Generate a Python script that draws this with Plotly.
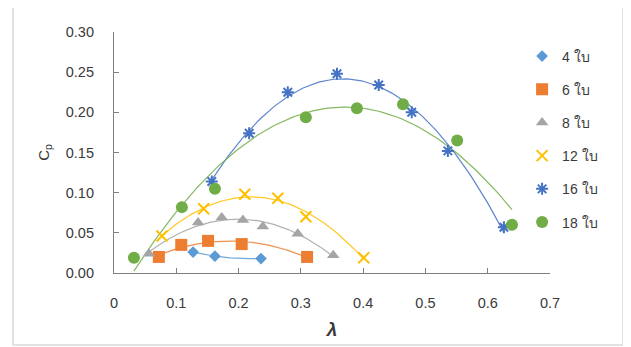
import numpy as np
import plotly.graph_objects as go

# ---- data ----
x4 = [0.127, 0.162, 0.236]
y4 = [0.026, 0.021, 0.018]

x6 = [0.072, 0.108, 0.151, 0.205, 0.310]
y6 = [0.020, 0.035, 0.040, 0.036, 0.020]

x8 = [0.056, 0.135, 0.173, 0.207, 0.239, 0.295, 0.352]
y8 = [0.024, 0.063, 0.069, 0.066, 0.058, 0.049, 0.022]

x12 = [0.077, 0.144, 0.210, 0.263, 0.308, 0.401]
y12 = [0.046, 0.080, 0.098, 0.093, 0.070, 0.019]

x16 = [0.157, 0.217, 0.279, 0.358, 0.425, 0.478, 0.536, 0.626]
y16 = [0.114, 0.174, 0.225, 0.248, 0.234, 0.200, 0.152, 0.057]

x18 = [0.032, 0.109, 0.162, 0.308, 0.390, 0.464, 0.551, 0.639]
y18 = [0.019, 0.082, 0.105, 0.194, 0.205, 0.210, 0.165, 0.060]

names = ["4 ใบ", "6 ใบ", "8 ใบ", "12 ใบ", "16 ใบ", "18 ใบ"]
xtick_vals = [0, 0.1, 0.2, 0.3, 0.4, 0.5, 0.6, 0.7]
xtick_text = ["0", "0.1", "0.2", "0.3", "0.4", "0.5", "0.6", "0.7"]
ytick_vals = [0, 0.05, 0.10, 0.15, 0.20, 0.25, 0.30]
ytick_text = ["0.00", "0.05", "0.10", "0.15", "0.20", "0.25", "0.30"]

series = [(x4, y4), (x6, y6), (x8, y8), (x12, y12), (x16, y16), (x18, y18)]
colors = ["#5B9BD5", "#ED7D31", "#A5A5A5", "#FFC000", "#4472C4", "#70AD47"]
symbols = ["diamond", "square", "triangle-up", "x-thin-open", "asterisk-open", "circle"]
sizes = [9, 12, 11, 11, 10, 12]

fig = go.Figure()

# polynomial (order 2) trendlines, as in the original spreadsheet chart
for (xs, ys), c in zip(series, colors):
    coef = np.polyfit(xs, ys, 2)
    xx = np.linspace(min(xs), max(xs), 120)
    fig.add_trace(go.Scatter(x=xx, y=np.polyval(coef, xx), mode="lines",
                             line=dict(color=c, width=1.2), opacity=0.85,
                             showlegend=False, hoverinfo="skip"))

for i, ((xs, ys), c, s, sz, n) in enumerate(zip(series, colors, symbols, sizes, names)):
    mk = dict(color=c, size=sz, symbol=s)
    if s.endswith("-open"):
        mk["line"] = dict(color=c, width=2)
    fig.add_trace(go.Scatter(x=xs, y=ys, mode="markers", name=n, marker=mk,
                             legendgroup=str(i)))

fig.update_layout(
    width=631, height=347,
    margin=dict(l=106, r=89, t=24, b=82),
    paper_bgcolor="white", plot_bgcolor="white",
    font=dict(family="Liberation Sans, Noto Sans, sans-serif", color="#3a3a3a", size=14.5),
    showlegend=True,
    legend=dict(x=0.936, y=0.965, xanchor="left", yanchor="top",
                tracegroupgap=12, itemwidth=30, bgcolor="rgba(0,0,0,0)",
                font=dict(size=14, color="#3a3a3a")),
    xaxis=dict(range=[0, 0.7], tickvals=xtick_vals, ticktext=xtick_text,
               automargin=False,
               showgrid=False, zeroline=False, showline=True, linecolor="#7f7f7f",
               linewidth=1.2, ticks="inside", ticklen=5, tickcolor="#7f7f7f",
               ticklabelstandoff=16,
               title=dict(text="<b><i>λ</i></b>", font=dict(size=19, color="#3a3a3a"),
                          standoff=13)),
    yaxis=dict(range=[0, 0.30], tickvals=ytick_vals, ticktext=ytick_text,
               automargin=False,
               showgrid=False, zeroline=False, showline=True, linecolor="#7f7f7f",
               linewidth=1.2, ticks="inside", ticklen=5, tickcolor="#7f7f7f",
               ticklabelstandoff=16,
               title=dict(text="C<sub>p</sub>", font=dict(size=15, color="#3a3a3a"),
                          standoff=12)),
    shapes=[dict(type="rect", xref="paper", yref="paper",
                 x0=-0.2317, x1=1.1674, y0=-0.2988, y1=1.1037,
                 line=dict(color="#d9d9d9", width=1.5), layer="below")],
)

fig.write_html("out.html")
